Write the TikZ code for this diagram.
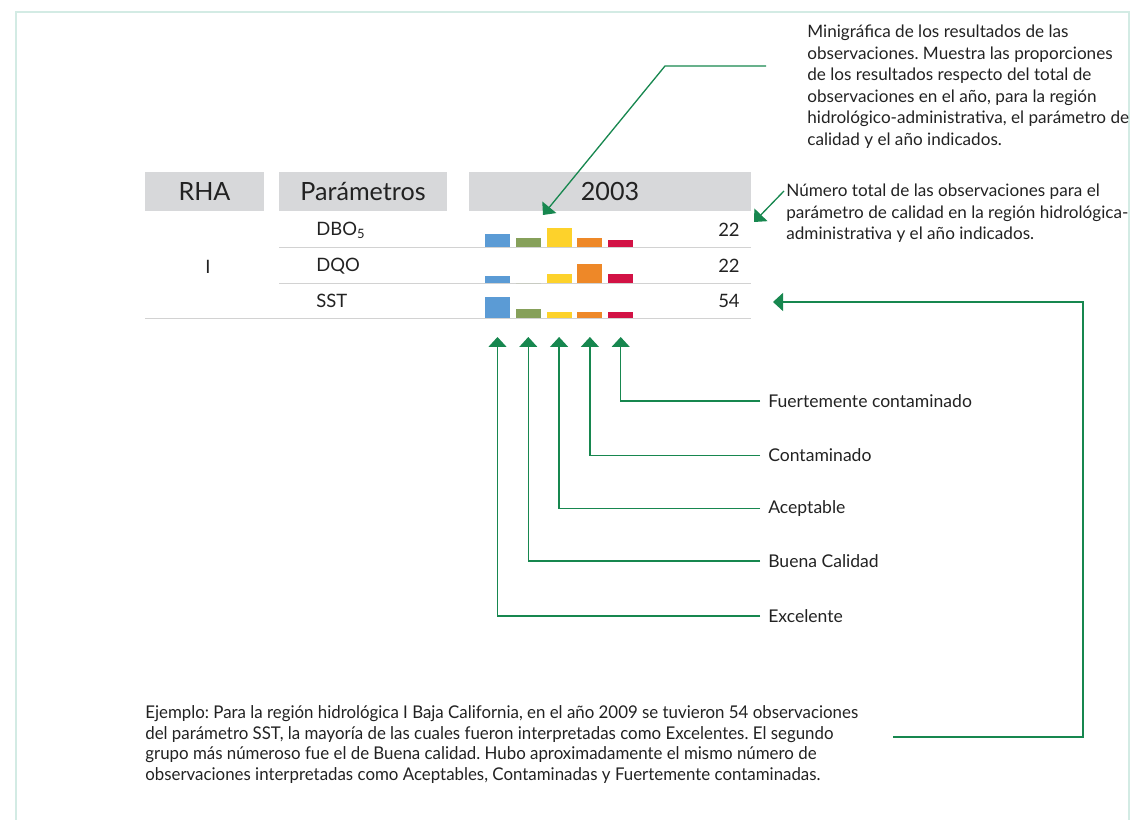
\documentclass[tikz,border=0pt]{standalone}
\usepackage{fontspec}
\setmainfont{Lato}
\newfontfamily\narrowfont[FakeStretch=0.96]{Lato}
\usetikzlibrary{arrows.meta}
\frenchspacing

\definecolor{framecol}{HTML}{D3EBE4}
\definecolor{headgray}{HTML}{D7D8DA}
\definecolor{rulegray}{HTML}{D2D2D2}
\definecolor{guidegreen}{HTML}{17874F}
\definecolor{textgray}{HTML}{222222}
\definecolor{barblue}{HTML}{5B9BD5}
\definecolor{bargreen}{HTML}{86A05A}
\definecolor{baryellow}{HTML}{FDD22B}
\definecolor{barorange}{HTML}{EE8828}
\definecolor{barred}{HTML}{D21245}

\def\barw{25}
\def\barstep{30.8}

\tikzset{
  guide/.style={guidegreen, line width=0.75pt},
  tipguide/.style={guide, -{Triangle[width=0.36cm,length=0.2cm]}},
  headtext/.style={font=\fontsize{14.3}{16}\selectfont, text=textgray, inner sep=0pt},
  celltext/.style={font=\fontsize{10.5}{12}\selectfont, text=textgray, inner sep=0pt},
  notetext/.style={font=\fontsize{9.75}{12.2}\selectfont, text=textgray, align=left, inner sep=0pt},
  legendtext/.style={font=\fontsize{10}{12}\selectfont, text=textgray, inner xsep=4.5pt, inner ysep=0pt, anchor=west}
}

\begin{document}
\begin{tikzpicture}[x=0.02cm, y=-0.02cm]
        \useasboundingbox (0,0) rectangle (1137,820);
        % frame
        \draw[framecol, line width=1pt] (16,820) |- (1129,12) -- (1129,820);
        % header boxes
        \fill[headgray] (145,172) rectangle (264,211);
        \fill[headgray] (279,172) rectangle (447,211);
        \fill[headgray] (469,172) rectangle (751,211);
        \node[headtext] (rha) at (204.5,192) {RHA};
        \node[headtext] (param) at (363,192) {Parámetros};
        \node[headtext] (year) at (610,192) {2003};
        % row rules
        \draw[rulegray, line width=0.7pt] (279,247.5) -- (751,247.5);
        \draw[rulegray, line width=0.7pt] (279,283.5) -- (751,283.5);
        \draw[rulegray, line width=0.7pt] (145,318.5) -- (751,318.5);
        % row labels
        \node[celltext] (region) at (208,267) {I};
        \node[celltext, anchor=west] (dbo) at (316,230) {DBO\textsubscript{5}};
        \node[celltext, anchor=west] (dqo) at (316,266) {DQO};
        \node[celltext, anchor=west] (sst) at (316,301) {SST};
        \node[celltext, anchor=east] (ndbo) at (740,230) {22};
        \node[celltext, anchor=east] (ndqo) at (740,266) {22};
        \node[celltext, anchor=east] (nsst) at (740,301) {54};
        % minigraphs
        \foreach \y/\ha/\hb/\hc/\hd/\he in {247/12.7/8.7/18.7/8.7/6.7, 283/6.7/0/8.7/18.7/8.7, 318/21/9/6/6/6} {
            \fill[barblue]   (485,\y) rectangle ++(\barw,-\ha);
            \fill[bargreen]  (485+\barstep,\y) rectangle ++(\barw,-\hb);
            \fill[baryellow] (485+2*\barstep,\y) rectangle ++(\barw,-\hc);
            \fill[barorange] (485+3*\barstep,\y) rectangle ++(\barw,-\hd);
            \fill[barred]    (485+4*\barstep,\y) rectangle ++(\barw,-\he);
        }
        % legend tips under the bars
        \foreach \i/\nm in {0/exc, 1/bue, 2/ace, 3/con, 4/fue}
            \coordinate (\nm tip) at (497.5+\i*\barstep,337);
        % legend labels
        \node[legendtext] (fue) at (760,401) {Fuertemente contaminado};
        \node[legendtext] (con) at (760,455.5) {Contaminado};
        \node[legendtext] (ace) at (760,508.5) {Aceptable};
        \node[legendtext] (bue) at (760,561) {Buena Calidad};
        \node[legendtext] (exc) at (760,616) {Excelente};
        \foreach \nm in {exc, bue, ace, con, fue}
            \draw[tipguide] (\nm.west) -| (\nm tip);
        % callout: minigraph
        \node[notetext, anchor=north west] (mininote) at (807,25) {Minigráfica de los resultados de las\\observaciones. Muestra las proporciones\\de los resultados respecto del total de\\observaciones en el año, para la región\\hidrológico-administrativa, el parámetro de\\calidad y el año indicados.};
        \coordinate (minifrom) at (766,66);
        \coordinate (minitip) at (543,215);
        \draw[tipguide] (minifrom) -- (665,66) -- (minitip);
        % callout: total
        \node[notetext, anchor=north west] (totnote) at (786,184) {Número total de las observaciones para el\\parámetro de calidad en la región hidrológica-\\administrativa y el año indicados.};
        \coordinate (totfrom) at (784,191);
        \coordinate (tottip) at (754,222);
        \draw[tipguide] (totfrom) -- (tottip);
        % example note
        \node[notetext, font=\narrowfont\fontsize{10}{11.8}\selectfont, anchor=north west] (example) at (145,705) {Ejemplo: Para la región hidrológica I Baja California, en el año 2009 se tuvieron 54 observaciones\\del parámetro SST, la mayoría de las cuales fueron interpretadas como Excelentes. El segundo\\grupo más númeroso fue el de Buena calidad. Hubo aproximadamente el mismo número de\\observaciones interpretadas como Aceptables, Contaminadas y Fuertemente contaminadas.};
        \coordinate (exfrom) at (893,737);
        \coordinate (sumtip) at (773,302);
        \draw[tipguide] (exfrom) -- (1083,737) |- (sumtip);
    \end{tikzpicture}
\end{document}
